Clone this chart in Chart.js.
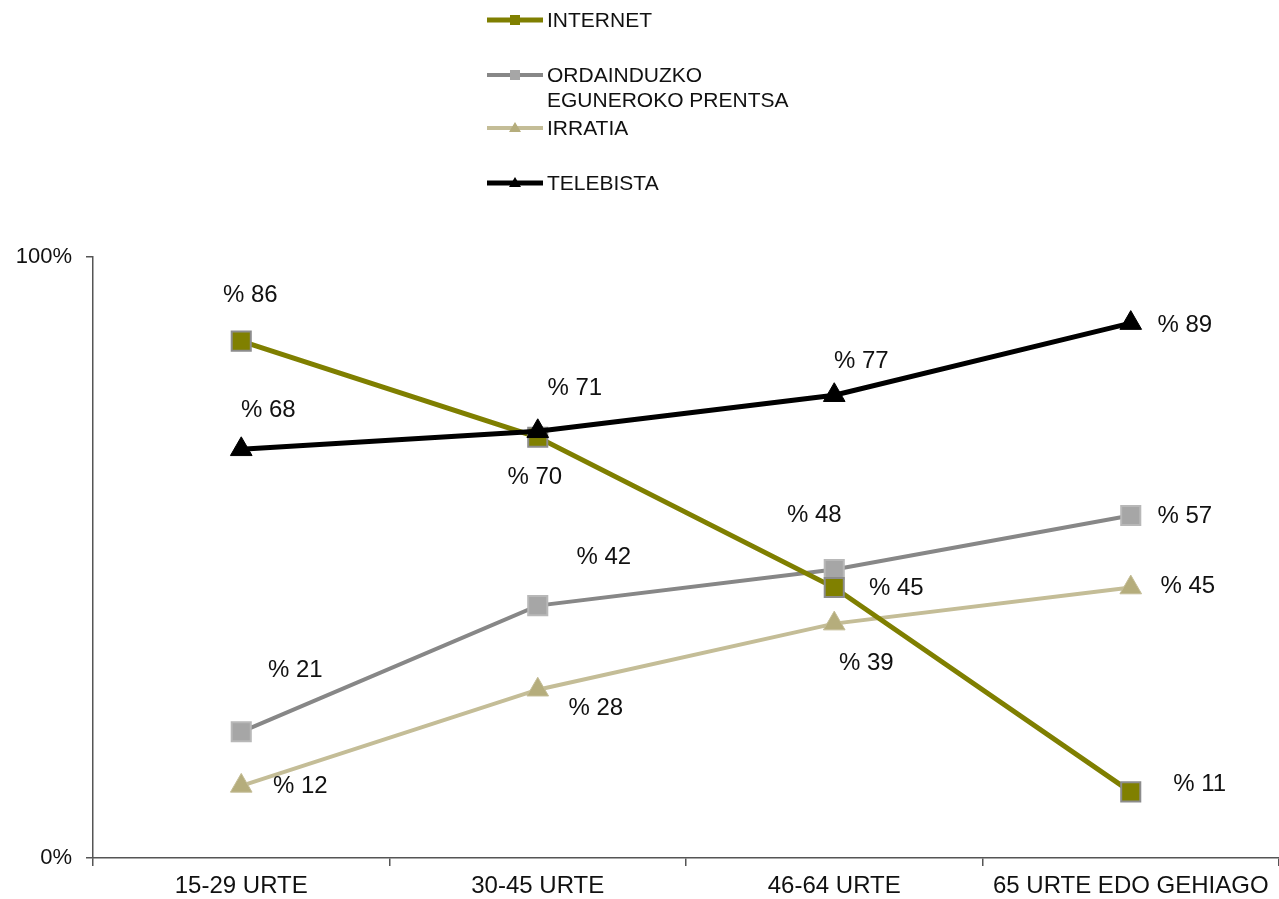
<!DOCTYPE html>
<html>
<head>
<meta charset="utf-8">
<script src="https://cdn.jsdelivr.net/npm/chart.js@4.4.1/dist/chart.umd.min.js"></script>
<style>
  html, body { margin: 0; padding: 0; background: #ffffff; overflow: hidden; }
  #wrap { width: 1279px; height: 899px; position: relative; }
  #c { display: block; }
</style>
</head>
<body>
<div id="wrap"><canvas id="c" width="1279" height="899"></canvas></div>
<script>
// Age groups along the x axis
const categories = ['15-29 URTE', '30-45 URTE', '46-64 URTE', '65 URTE EDO GEHIAGO'];

// Share of each age group using each medium (%)
const internet = [86, 70, 45, 11];
const prentsa = [21, 42, 48, 57];
const irratia = [12, 28, 39, 45];
const telebista = [68, 71, 77, 89];

// Series names
const seriesNames = ['INTERNET', ['ORDAINDUZKO', 'EGUNEROKO PRENTSA'], 'IRRATIA', 'TELEBISTA'];

// Y axis tick labels
const yTicks = [0, 100];

// Where each value label sits relative to its point (dx, dy in px)
const labelOffsets = [
  [[9, -46], [-3, 40], [62, 1], [69, -8]],
  [[54, -61], [66, -48], [-20, -54], [54, 1]],
  [[59, 0], [58, 19], [32, 40], [57, -1]],
  [[27, -39], [37, -43], [27, -34], [54, 2]]
];

const FONT = '"Liberation Sans", Arial, sans-serif';

const valueLabels = {
  id: 'valueLabels',
  afterDatasetsDraw(chart) {
    const ctx = chart.ctx;
    ctx.save();
    ctx.font = '24px ' + FONT;
    ctx.fillStyle = '#111111';
    ctx.textAlign = 'center';
    ctx.textBaseline = 'middle';
    chart.data.datasets.forEach((ds, di) => {
      const meta = chart.getDatasetMeta(di);
      meta.data.forEach((pt, i) => {
        const off = labelOffsets[di][i];
        ctx.fillText('% ' + ds.data[i], pt.x + off[0], pt.y + off[1]);
      });
    });
    ctx.restore();
  }
};

// Stacked legend in the top band
const topLegend = {
  id: 'topLegend',
  afterDraw(chart) {
    const ctx = chart.ctx;
    const rows = [20, 75, 128, 183];
    ctx.save();
    chart.data.datasets.forEach((ds, di) => {
      const y = rows[di];
      ctx.strokeStyle = ds.borderColor;
      ctx.lineWidth = ds.borderWidth;
      ctx.beginPath();
      ctx.moveTo(487, y);
      ctx.lineTo(543, y);
      ctx.stroke();
      ctx.fillStyle = ds.pointBackgroundColor;
      if (ds.pointStyle === 'rect') {
        ctx.fillRect(510, y - 5, 10, 10);
      } else {
        ctx.beginPath();
        ctx.moveTo(515, y - 6);
        ctx.lineTo(521, y + 4);
        ctx.lineTo(509, y + 4);
        ctx.closePath();
        ctx.fill();
      }
      ctx.fillStyle = '#111111';
      ctx.font = '21px ' + FONT;
      ctx.textAlign = 'left';
      ctx.textBaseline = 'middle';
      const name = seriesNames[di];
      const lines = Array.isArray(name) ? name : [name];
      lines.forEach((t, k) => ctx.fillText(t, 547, y + 1 + k * 25));
    });
    ctx.restore();
  }
};

new Chart(document.getElementById('c'), {
  type: 'line',
  data: {
    labels: categories,
    datasets: [
      {
        label: 'INTERNET', data: internet, order: 1,
        borderColor: '#7f7f00', borderWidth: 5,
        pointStyle: 'rect', pointRadius: 13.5, pointBorderWidth: 2,
        pointBackgroundColor: '#808000', pointBorderColor: '#8c8c8c'
      },
      {
        label: 'ORDAINDUZKO EGUNEROKO PRENTSA', data: prentsa, order: 2,
        borderColor: '#878787', borderWidth: 4,
        pointStyle: 'rect', pointRadius: 13.5, pointBorderWidth: 2,
        pointBackgroundColor: '#a6a6a6', pointBorderColor: '#b8b8b8'
      },
      {
        label: 'IRRATIA', data: irratia, order: 3,
        borderColor: '#c4bd97', borderWidth: 4,
        pointStyle: 'triangle', pointRadius: 12.5, pointBorderWidth: 1,
        pointBackgroundColor: '#b5ad7c', pointBorderColor: '#c4bd97'
      },
      {
        label: 'TELEBISTA', data: telebista, order: 0,
        borderColor: '#000000', borderWidth: 5,
        pointStyle: 'triangle', pointRadius: 12.5, pointBorderWidth: 1,
        pointBackgroundColor: '#000000', pointBorderColor: '#000000'
      }
    ]
  },
  options: {
    responsive: false,
    animation: false,
    layout: { autoPadding: false, padding: { top: 257, left: 0, right: 0, bottom: 0 } },
    plugins: { legend: { display: false }, tooltip: { enabled: false } },
    elements: { line: { tension: 0 } },
    scales: {
      x: {
        offset: true,
        grid: {
          offset: true, drawOnChartArea: false, drawTicks: true,
          tickLength: 8, color: '#555555', lineWidth: 1.5
        },
        border: { color: '#555555', width: 1.5 },
        ticks: { color: '#111111', font: { family: FONT, size: 24 }, padding: 6, maxRotation: 0, autoSkip: false },
        afterFit(scale) {
          scale.height = 41;
          scale.paddingLeft = 0;
          scale.paddingRight = 0;
        }
      },
      y: {
        min: 0, max: 100,
        afterBuildTicks(scale) { scale.ticks = yTicks.map(v => ({ value: v })); },
        grid: { drawOnChartArea: false, drawTicks: true, tickLength: 7, color: '#555555', lineWidth: 1.5 },
        border: { color: '#555555', width: 1.5 },
        ticks: { color: '#111111', font: { family: FONT, size: 22 }, padding: 14, callback: v => v + '%' },
        afterFit(scale) { scale.width = 93; }
      }
    }
  },
  plugins: [valueLabels, topLegend]
});
</script>
</body>
</html>
